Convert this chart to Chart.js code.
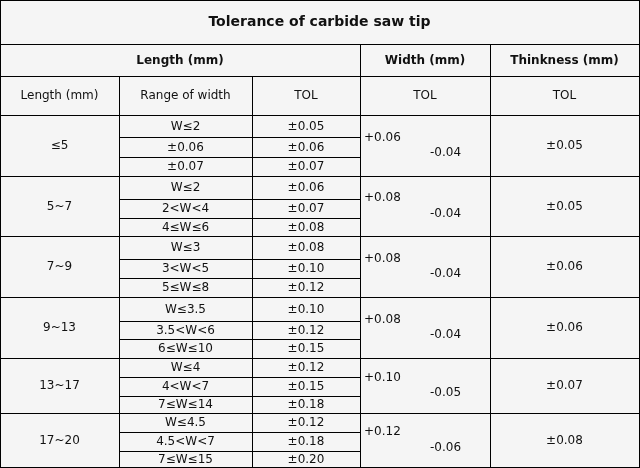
<!DOCTYPE html>
<html><head><meta charset="utf-8">
<script src="https://cdn.jsdelivr.net/npm/chart.js@4/dist/chart.umd.min.js"></script>
<style>html,body{margin:0;padding:0;background:#f5f5f5}#wrap{width:640px;height:468px;position:relative}</style>
</head><body><div id="wrap"><canvas id="c"></canvas></div>
<script>
// ---- data ----
const title = "Tolerance of carbide saw tip";
const groupHeaders = ["Length (mm)", "Width (mm)", "Thinkness (mm)"];
const subHeaders = ["Length (mm)", "Range of width", "TOL", "TOL", "TOL"];
const lengths = ["≤5", "5~7", "7~9", "9~13", "13~17", "17~20"];
const widthRanges = [
  ["W≤2", "±0.06", "±0.07"],
  ["W≤2", "2<W<4", "4≤W≤6"],
  ["W≤3", "3<W<5", "5≤W≤8"],
  ["W≤3.5", "3.5<W<6", "6≤W≤10"],
  ["W≤4", "4<W<7", "7≤W≤14"],
  ["W≤4.5", "4.5<W<7", "7≤W≤15"]
];
const lengthTol = [
  [0.05, 0.06, 0.07],
  [0.06, 0.07, 0.08],
  [0.08, 0.10, 0.12],
  [0.10, 0.12, 0.15],
  [0.12, 0.15, 0.18],
  [0.12, 0.18, 0.20]
];
const widthPlus = [0.06, 0.08, 0.08, 0.08, 0.10, 0.12];
const widthMinus = [0.04, 0.04, 0.04, 0.04, 0.05, 0.06];
const thickTol = [0.05, 0.05, 0.06, 0.06, 0.07, 0.08];

// ---- layout (table grid in scale units) ----
const colEdges = [0, 119, 252, 360, 490, 639];
const headEdges = [0, 44, 76, 115];
const groupEdges = [115, 176, 236, 297, 358, 413, 467];
const subRowEdges = [
  [115, 137, 157, 176],
  [176, 199, 218, 236],
  [236, 259, 278, 297],
  [297, 321, 339, 358],
  [358, 377, 396, 413],
  [413, 432, 451, 467]
];

const FONT = '"DejaVu Sans", Verdana, sans-serif';
const pm = v => "±" + v.toFixed(2);

const tablePlugin = {
  id: 'tablePlugin',
  beforeDraw(chart) {
    const ctx = chart.ctx;
    ctx.save();
    ctx.fillStyle = '#f5f5f5';
    ctx.fillRect(0, 0, chart.width, chart.height);
    ctx.restore();
  },
  afterDraw(chart) {
    const ctx = chart.ctx;
    const xs = chart.scales.x, ys = chart.scales.y;
    const X = v => xs.getPixelForValue(v);
    const Y = v => ys.getPixelForValue(v);
    const crisp = p => Math.round(p) + 0.5;
    ctx.save();
    ctx.strokeStyle = '#000';
    ctx.lineWidth = 1;
    const hline = (y, x0, x1) => { ctx.beginPath(); ctx.moveTo(X(x0), crisp(Y(y))); ctx.lineTo(X(x1) + 1, crisp(Y(y))); ctx.stroke(); };
    const vline = (x, y0, y1) => { ctx.beginPath(); ctx.moveTo(crisp(X(x)), Y(y0)); ctx.lineTo(crisp(X(x)), Y(y1) + 1); ctx.stroke(); };
    const L = colEdges[0], R = colEdges[colEdges.length - 1];
    const T = headEdges[0], B = groupEdges[groupEdges.length - 1];
    headEdges.forEach(y => hline(y, L, R));
    groupEdges.forEach(y => hline(y, L, R));
    subRowEdges.forEach(rows => rows.slice(1, -1).forEach(y => hline(y, colEdges[1], colEdges[3])));
    vline(L, T, B); vline(R, T, B);
    vline(colEdges[3], headEdges[1], B); vline(colEdges[4], headEdges[1], B);
    vline(colEdges[1], headEdges[2], B); vline(colEdges[2], headEdges[2], B);

    ctx.fillStyle = '#111';
    ctx.textBaseline = 'middle';
    const txt = (s, x, y, font, align) => { ctx.font = font; ctx.textAlign = align || 'center'; ctx.fillText(s, X(x), Y(y)); };
    const mid = (a, b) => (a + b) / 2;
    const bold = 'bold 12px ' + FONT, norm = '12px ' + FONT;
    txt(title, mid(L, R), mid(headEdges[0], headEdges[1]) + 0.5, 'bold 14px ' + FONT);
    const gy = mid(headEdges[1], headEdges[2]) + 0.5;
    txt(groupHeaders[0], mid(colEdges[0], colEdges[3]), gy, bold);
    txt(groupHeaders[1], mid(colEdges[3], colEdges[4]), gy, bold);
    txt(groupHeaders[2], mid(colEdges[4], colEdges[5]), gy, bold);
    const sy = mid(headEdges[2], headEdges[3]) + 0.5;
    subHeaders.forEach((s, i) => txt(s, mid(colEdges[i], colEdges[i + 1]), sy, norm));
    lengths.forEach((s, g) => {
      const cy = mid(groupEdges[g], groupEdges[g + 1]);
      txt(s, mid(colEdges[0], colEdges[1]), cy + 0.5, norm);
      const rows = subRowEdges[g];
      for (let r = 0; r < 3; r++) {
        const ry = mid(rows[r], rows[r + 1]) + 0.5;
        txt(widthRanges[g][r], mid(colEdges[1], colEdges[2]), ry, norm);
        txt(pm(lengthTol[g][r]), mid(colEdges[2], colEdges[3]), ry, norm);
      }
      txt("+" + widthPlus[g].toFixed(2), colEdges[3] + 4, cy - 8, norm, 'left');
      txt("-" + widthMinus[g].toFixed(2), colEdges[3] + 70, cy + 7.5, norm, 'left');
      txt(pm(thickTol[g]), mid(colEdges[4], colEdges[5]), cy + 0.5, norm);
    });
    ctx.restore();
  }
};

new Chart(document.getElementById('c'), {
  type: 'scatter',
  data: { datasets: [{ data: [], pointRadius: 0 }] },
  options: {
    responsive: true, maintainAspectRatio: false, animation: false, devicePixelRatio: 1,
    layout: { padding: 0 },
    plugins: { legend: { display: false }, tooltip: { enabled: false }, title: { display: false } },
    scales: {
      x: { type: 'linear', min: 0, max: 640, display: false },
      y: { type: 'linear', min: 0, max: 468, reverse: true, display: false }
    }
  },
  plugins: [tablePlugin]
});
</script></body></html>
